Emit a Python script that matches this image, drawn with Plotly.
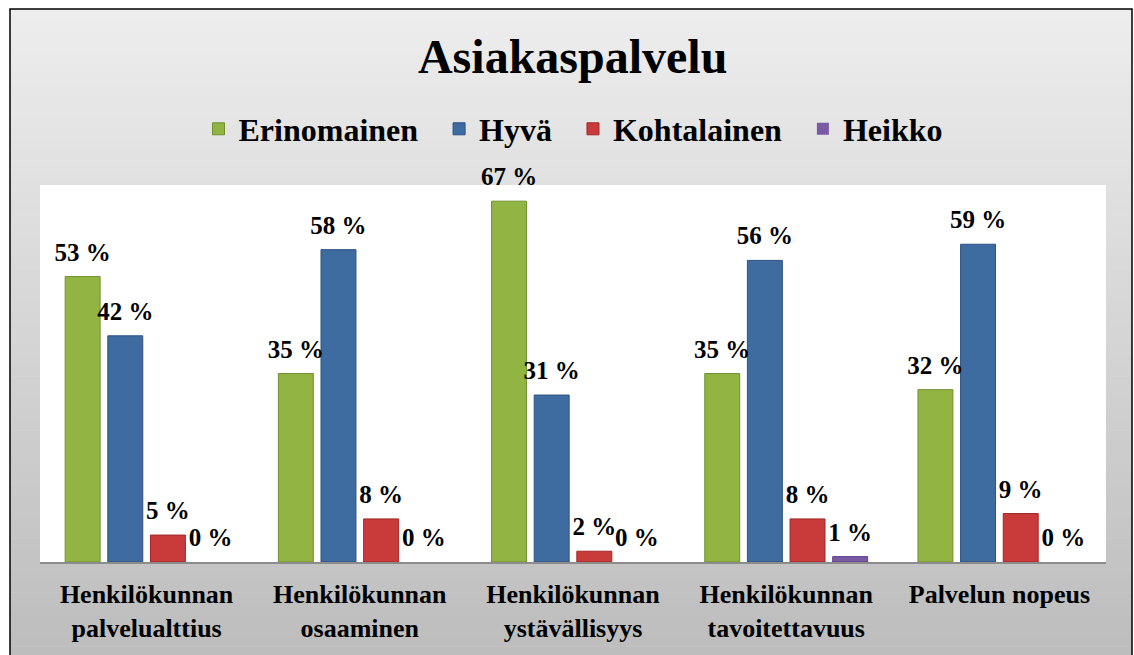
import plotly.graph_objects as go

categories = [
    "Henkilökunnan<br>palvelualttius",
    "Henkilökunnan<br>osaaminen",
    "Henkilökunnan<br>ystävällisyys",
    "Henkilökunnan<br>tavoitettavuus",
    "Palvelun nopeus",
]
series_names = ["Erinomainen", "Hyvä", "Kohtalainen", "Heikko"]
erinomainen = [53, 35, 67, 35, 32]
hyva = [42, 58, 31, 56, 59]
kohtalainen = [5, 8, 2, 8, 9]
heikko = [0, 0, 0, 1, 0]
title_text = "Asiakaspalvelu"

series_values = [erinomainen, hyva, kohtalainen, heikko]
colors = ["#92b443", "#3e6ba0", "#c93a3a", "#7a5aa5"]
edge_colors = ["#71902e", "#2d5283", "#a02828", "#5b4285"]

W, H = 1134, 655
L, R, T, B = 40, 28, 185, 93
pw, ph = W - L - R, H - T - B


def px_x(x):
    return (x - L) / pw


def px_y(y):
    return (H - B - y) / ph


fig = go.Figure()
for k, (name, vals, c, ec) in enumerate(zip(series_names, series_values, colors, edge_colors)):
    pad = "" if k == len(series_names) - 1 else "&nbsp;&nbsp;"
    fig.add_trace(go.Bar(
        name="<b>" + name + "</b>" + pad, x=categories, y=vals,
        marker=dict(color=c, line=dict(width=[1 if v else 0 for v in vals], color=ec)),
        textposition="none", hoverinfo="x+y",
    ))
# value labels, grouped like the bars
for k, vals in enumerate(series_values):
    fig.add_trace(go.Scatter(
        x=categories, y=vals, mode="markers+text",
        marker=dict(size=14, color="rgba(0,0,0,0)"),
        text=["<b>%d %%</b>" % v for v in vals], textposition="top center",
        textfont=dict(family="Liberation Serif", size=25, color="black"),
        showlegend=False, hoverinfo="skip", cliponaxis=False,
    ))

# background gradient
shapes = []
n = 60
top_c = (0xed, 0xed, 0xed)
bot_c = (0xbd, 0xbd, 0xbd)
y0p, y1p = 9, H + 2
for i in range(n):
    t = i / (n - 1)
    col = tuple(round(top_c[k] + (bot_c[k] - top_c[k]) * t) for k in range(3))
    ya = y0p + (y1p - y0p) * i / n
    yb = y0p + (y1p - y0p) * (i + 1) / n + 0.5
    shapes.append(dict(type="rect", xref="paper", yref="paper", layer="below",
                       x0=px_x(10), x1=px_x(1132), y0=px_y(ya), y1=px_y(yb),
                       fillcolor="rgb(%d,%d,%d)" % col, line=dict(width=0)))
# white plot area
shapes.append(dict(type="rect", xref="paper", yref="paper", layer="below",
                   x0=0, x1=1, y0=0, y1=1, fillcolor="white", line=dict(width=0)))
# outer border
shapes.append(dict(type="rect", xref="paper", yref="paper", layer="below",
                   x0=px_x(10), x1=px_x(1132), y0=px_y(9), y1=px_y(H + 5),
                   fillcolor="rgba(0,0,0,0)", line=dict(color="black", width=1.5)))

fig.update_layout(
    width=W, height=H,
    margin=dict(l=L, r=R, t=T, b=B, autoexpand=False),
    paper_bgcolor="white", plot_bgcolor="white",
    barmode="group", bargap=0.2, bargroupgap=0.18,
    scattermode="group", scattergap=0.2,
    font=dict(family="Liberation Serif", color="black"),
    title=dict(text="<b>" + title_text + "</b>", x=0.505, xanchor="center",
               y=1 - 56 / H, yanchor="middle",
               font=dict(family="Liberation Serif", size=48, color="black")),
    legend=dict(orientation="h", x=0.5, xanchor="center", y=1 - 129 / H,
                yanchor="middle", yref="container",
                font=dict(family="Liberation Serif", size=32, color="black"),
                bgcolor="rgba(0,0,0,0)", traceorder="normal"),
    shapes=shapes,
    showlegend=True,
)
fig.update_xaxes(showline=True, linecolor="#8c8c8c", linewidth=1.5,
                 tickfont=dict(family="Liberation Serif", size=26, color="black"),
                 ticks="", showgrid=False, ticklabelstandoff=8,
                 tickvals=categories, ticktext=["<b>" + c + "</b>" for c in categories])
fig.update_yaxes(range=[0, 70], showticklabels=False, showgrid=False,
                 zeroline=False, showline=False, ticks="")

fig.write_html("out.html", config={"displayModeBar": False},
               post_script="document.body.style.margin='0';")
